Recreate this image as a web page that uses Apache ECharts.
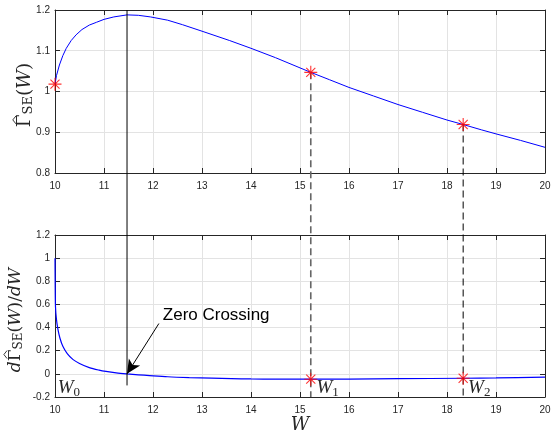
<!DOCTYPE html>
<html><head><meta charset="utf-8">
<script src="https://cdn.jsdelivr.net/npm/echarts@6/dist/echarts.min.js"></script>
<style>html,body{margin:0;padding:0;background:#fff}#c{width:552px;height:433px}</style>
</head><body><div id="c"></div>
<script>
// ---- data ----
const W_TOP = [10, 10.03, 10.09, 10.16, 10.23, 10.33, 10.43, 10.55, 10.7, 10.85, 11.0, 11.2, 11.47, 11.7, 11.95, 12.3, 12.6, 13.0, 13.565, 14.0, 14.5, 15.0, 15.22, 15.6, 16.0, 16.5, 17.0, 17.5, 18.0, 18.33, 18.7, 19.0, 19.5, 20];
const GAMMA_TOP = [1.018, 1.039, 1.065, 1.088, 1.106, 1.125, 1.139, 1.152, 1.163, 1.170, 1.177, 1.183, 1.188, 1.187, 1.183, 1.175, 1.164, 1.148, 1.125, 1.106, 1.083, 1.058, 1.047, 1.029, 1.010, 0.989, 0.968, 0.949, 0.930, 0.919, 0.906, 0.896, 0.880, 0.863];
const W_DER = [10, 10.003, 10.01, 10.03, 10.06, 10.1, 10.16, 10.25, 10.37, 10.5, 10.7, 10.9, 11.04, 11.25, 11.47, 11.7, 11.93, 12.3, 12.74, 13.2, 13.6, 14.0, 14.5, 15.22, 16.0, 17.0, 18.33, 19.0, 20];
const DGAMMA = [1.0, 0.8, 0.58, 0.47, 0.384, 0.31, 0.238, 0.175, 0.123, 0.09, 0.054, 0.032, 0.021, 0.009, 0.0, -0.008, -0.015, -0.025, -0.032, -0.037, -0.041, -0.044, -0.046, -0.046, -0.045, -0.042, -0.038, -0.035, -0.029];
const W0 = 11.47, W1 = 15.22, W2 = 18.33;
const STAR_TOP_W = [10, W1, W2];
const STAR_TOP_V = [1.018, 1.047, 0.919];
const STAR_BOT_W = [W1, W2];
const STAR_BOT_V = [-0.046, -0.038];
const SUBS = ['0', '1', '2'];
const SUB_LABEL_AT = [[10.055, -0.12], [15.335, -0.12], [18.43, -0.12]];
const ARROW_FROM = [12.12, 0.435];
const ZC_TEXT_AT = [12.2, 0.507];
const ZC_TEXT = 'Zero Crossing';
// axis titles as math tokens: [text, kind]  kind: r roman, i italic, s subscript, h roman with hat
const TOP_TITLE = [['Γ', 'h'], ['SE', 's'], ['(', 'r'], ['W', 'i'], [')', 'r']];
const BOT_TITLE = [['d', 'i'], ['Γ', 'h'], ['SE', 's'], ['(', 'r'], ['W', 'i'], [')', 'r'], ['/', 'r'], ['dW', 'i']];

const zip = (a, b) => a.map((v, i) => [v, b[i]]);
const STAR = 'path://M0,-10L0,10M-10,0L10,0M-7,-7L7,7M-7,7L7,-7';
const AX = '#262626', GRID = '#e3e3e3';
const LBL = {color: AX, fontSize: 10, fontFamily: 'Liberation Sans, Arial, sans-serif'};

function xAx(grid, pos, labels, extra) {
  return Object.assign({
    type: 'value', gridIndex: grid, position: pos, min: 10, max: 20, interval: 1,
    axisLine: {onZero: false, lineStyle: {color: AX, width: 1}},
    axisTick: {inside: true, length: 5, lineStyle: {color: AX}},
    axisLabel: labels ? Object.assign({margin: 8}, LBL) : {show: false},
    splitLine: {show: labels, lineStyle: {color: GRID, width: 1}}
  }, extra || {});
}
function yAx(grid, pos, min, max, iv, labels) {
  return {
    type: 'value', gridIndex: grid, position: pos, min: min, max: max, interval: iv,
    axisLine: {onZero: false, show: true, lineStyle: {color: AX, width: 1}},
    axisTick: {show: true, inside: true, length: 5, lineStyle: {color: AX}},
    axisLabel: labels ? Object.assign({margin: 5}, LBL) : {show: false},
    splitLine: {show: labels, lineStyle: {color: GRID, width: 1}}
  };
}
const serif = 'DejaVu Serif, serif';

const chart = echarts.init(document.getElementById('c'), null, {renderer: 'canvas'});
const option = {
  animation: false,
  backgroundColor: '#fff',
  grid: [
    {left: 55, right: 7, top: 10, height: 163, outerBoundsMode: 'none', containLabel: false},
    {left: 55, right: 7, top: 235, height: 162, outerBoundsMode: 'none', containLabel: false}
  ],
  xAxis: [
    xAx(0, 'bottom', true),
    xAx(0, 'top', false),
    xAx(1, 'bottom', true, {name: 'W', nameLocation: 'middle', nameGap: 19,
      nameTextStyle: {fontFamily: serif, fontStyle: 'italic', fontSize: 18, color: '#262626'}}),
    xAx(1, 'top', false)
  ],
  yAxis: [
    yAx(0, 'left', 0.8, 1.2, 0.1, true),
    yAx(0, 'right', 0.8, 1.2, 0.1, false),
    yAx(1, 'left', -0.2, 1.2, 0.2, true),
    yAx(1, 'right', -0.2, 1.2, 0.2, false)
  ],
  series: [
    {type: 'line', xAxisIndex: 0, yAxisIndex: 0, data: zip(W_TOP, GAMMA_TOP), smooth: false,
      showSymbol: false, lineStyle: {color: '#0000ff', width: 1}, z: 3},
    {type: 'line', xAxisIndex: 2, yAxisIndex: 2, data: zip(W_DER, DGAMMA), smooth: 0.3,
      showSymbol: false, lineStyle: {color: '#0000ff', width: 1.2}, z: 3,
      markLine: {silent: true, symbol: ['none', 'arrow'], symbolSize: [10, 14], label: {show: false},
        lineStyle: {color: '#000', width: 1, type: 'solid'},
        data: [[{coord: ARROW_FROM}, {coord: [W0, 0]}]]}},
    {type: 'scatter', xAxisIndex: 0, yAxisIndex: 0, data: zip(STAR_TOP_W, STAR_TOP_V), symbol: STAR, symbolSize: 13,
      itemStyle: {color: 'rgba(0,0,0,0)', borderColor: '#ff0000', borderWidth: 1.1}, z: 10},
    {type: 'scatter', xAxisIndex: 2, yAxisIndex: 2, data: zip(STAR_BOT_W, STAR_BOT_V), symbol: STAR, symbolSize: 13,
      itemStyle: {color: 'rgba(0,0,0,0)', borderColor: '#ff0000', borderWidth: 1.1}, z: 10}
  ]
};
chart.setOption(option);

const pTop = (p) => chart.convertToPixel({xAxisIndex: 0, yAxisIndex: 0}, p);
const pBot = (p) => chart.convertToPixel({xAxisIndex: 2, yAxisIndex: 2}, p);
const gl = [];
function vline(a, b, color, width, dash) {
  gl.push({type: 'line', z: 5, silent: true,
    shape: {x1: a[0], y1: a[1], x2: b[0], y2: b[1]},
    style: {stroke: color, lineWidth: width, lineDash: dash || null}});
}
vline(pTop([W0, 1.2]), pBot([W0, -0.1]), '#000', 1);
vline(pTop([W1, STAR_TOP_V[1]]), pBot([W1, -0.2]), '#666', 1.6, [7, 4]);
vline(pTop([W2, STAR_TOP_V[2]]), pBot([W2, -0.2]), '#000', 1, [7, 4]);
const zc = pBot(ZC_TEXT_AT);
gl.push({type: 'text', z: 6, silent: true, x: zc[0], y: zc[1],
  style: {text: ZC_TEXT, fill: '#000', font: '17px "Liberation Sans", Arial, sans-serif', align: 'left', verticalAlign: 'middle'}});
SUB_LABEL_AT.forEach((p, i) => {
  const q = pBot(p);
  gl.push({type: 'text', z: 6, silent: true, x: q[0], y: q[1],
    style: {text: '{w|W}{s|' + SUBS[i] + '}', align: 'left', verticalAlign: 'middle',
      rich: {
        w: {fontFamily: 'Liberation Serif, serif', fontStyle: 'italic', fontSize: 19, fill: '#262626'},
        s: {fontFamily: 'Liberation Serif, serif', fontSize: 13, fill: '#262626', padding: [10, 0, 0, 0]}
      }}});
});

// rotated math-style axis titles (baseline at local y = 0)
const mctx = document.createElement('canvas').getContext('2d');
function tw(font, s) { mctx.font = font; return mctx.measureText(s).width; }
function mathTitle(tokens, fs, bx, cy) {
  let x = 0;
  const items = tokens.map(([t, k]) => {
    const size = k === 's' ? Math.round(fs * 0.7) : fs;
    const font = (k === 'i' ? 'italic ' : '') + size + 'px "DejaVu Serif"';
    const w = tw(font, t);
    const it = {t: t, k: k, font: font, x: x, w: w, size: size};
    x += w;
    return it;
  });
  const total = x;
  const children = [];
  items.forEach(it => {
    const lx = it.x - total / 2;
    const base = it.k === 's' ? fs * 0.12 : 0;
    children.push({type: 'text', x: lx, y: base - 0.36 * it.size,
      style: {text: it.t, font: it.font, fill: '#262626', align: 'left', verticalAlign: 'middle'}});
    if (it.k === 'h') {
      const c = lx + it.w * 0.58, top = -0.73 * fs - 2;
      children.push({type: 'polyline', shape: {points: [[c - 4, top], [c, top - 3.2], [c + 4, top]]},
        style: {stroke: '#262626', lineWidth: 0.9, fill: null}});
    }
  });
  gl.push({type: 'group', x: bx, y: cy, rotation: Math.PI / 2, silent: true, children: children});
}
mathTitle(TOP_TITLE, 18.5, 31.5, pTop([10, 1.0])[1] + 3.5);
mathTitle(BOT_TITLE, 17, 21.5, pBot([10, 0.5])[1] + 4);
chart.setOption({graphic: gl});
</script>
</body></html>
